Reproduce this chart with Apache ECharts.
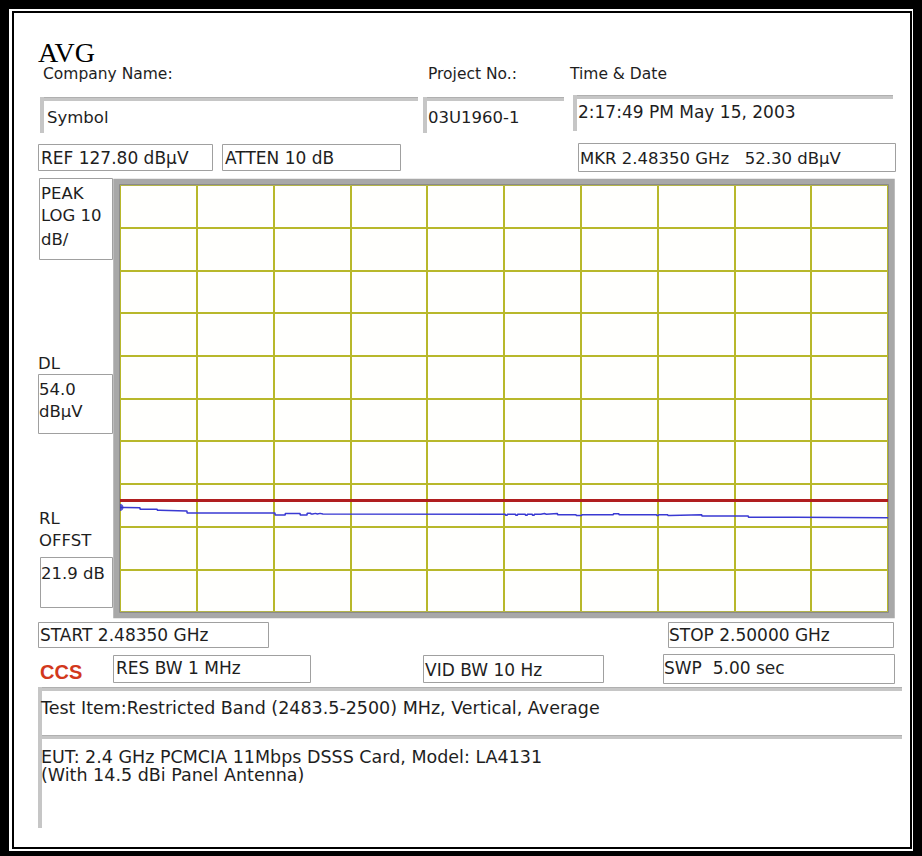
<!DOCTYPE html>
<html>
<head>
<meta charset="utf-8">
<title>AVG - Restricted Band 2483.5-2500 MHz</title>
<script src="https://cdn.jsdelivr.net/npm/echarts@6/dist/echarts.min.js"></script>
<style>
  html, body { margin: 0; padding: 0; background: #fff; }
  #main { width: 922px; height: 856px; }
</style>
</head>
<body>
<div id="main"></div>
<script>
// analyzer settings (from the screen annotations)
const refLevel = 127.8        // dBuV, top graticule line
const dbPerDiv = 10
const divisions = 10
const startFreq = 2483.5      // MHz
const stopFreq = 2500.0       // MHz
const displayLine = 54.0      // DL, dBuV
const markerFreq = [2483.5]
const markerLevel = [52.3]

// trace, each level is held until the next frequency
const traceFreq = [
  2483.50, 2483.62, 2483.93, 2484.30, 2484.35, 2484.94, 2486.83, 2487.05,
  2487.37, 2487.52, 2487.60, 2487.64, 2487.70, 2487.74, 2487.80, 2487.86,
  2491.78, 2491.82, 2492.00, 2492.04, 2492.21, 2492.25, 2492.36, 2492.40,
  2492.54, 2492.62, 2492.66, 2492.90, 2493.30, 2493.42, 2494.10, 2494.22,
  2495.03, 2495.07, 2495.27, 2495.31, 2496.00, 2497.00, 2498.00, 2500.00
]
const traceLevel = [
  52.3, 52.2, 51.85, 51.6, 51.45, 51.0, 50.5, 50.85,
  50.5, 50.95, 50.75, 50.9, 50.75, 50.9, 50.75, 50.7,
  50.45, 50.7, 50.45, 50.7, 50.45, 50.7, 50.45, 50.7,
  50.85, 50.7, 50.85, 50.6, 50.4, 50.6, 50.8, 50.6,
  50.4, 50.6, 50.4, 50.55, 50.3, 50.0, 49.85, 49.8
]

const font = '"DejaVu Sans", Verdana, sans-serif'
const gridColor = '#b8b82a'
const boxColor = '#a0a0a0'
const bevelColor = '#c6c6c6'

// plain framed boxes
function box(x, y, w, h) {
  return {
    type: 'rect',
    z: 100,
    shape: { x: x + 0.5, y: y + 0.5, width: w, height: h },
    style: { fill: 'none', stroke: boxColor, lineWidth: 1 }
  }
}

// sunken field: grey bar on top and left only
function field(x, y, w, h) {
  return [
    { type: 'rect', z: 100, shape: { x: x, y: y, width: w, height: 4 }, style: { fill: bevelColor } },
    { type: 'rect', z: 100, shape: { x: x, y: y, width: w, height: 1 }, style: { fill: '#b0b0b0' } },
    { type: 'rect', z: 100, shape: { x: x, y: y, width: 4, height: h }, style: { fill: bevelColor } }
  ]
}

function label(text, x, y, opts) {
  opts = opts || {}
  return {
    type: 'text',
    z: 110,
    x: x,
    y: y,
    style: {
      text: text,
      font: opts.font || (opts.size || 17) + 'px ' + font,
      fill: opts.color || '#1e1e1e',
      textAlign: 'left',
      textVerticalAlign: 'middle'
    }
  }
}

const elements = [
  // outer double border
  { type: 'rect', z: 100, shape: { x: 4.5, y: 4.5, width: 913, height: 851 }, style: { fill: 'none', stroke: '#000', lineWidth: 9 } },
  { type: 'rect', z: 100, shape: { x: 13, y: 12, width: 898, height: 836 }, style: { fill: 'none', stroke: '#000', lineWidth: 2 } },

  // plot frame
  { type: 'rect', z: 100, shape: { x: 116.5, y: 182, width: 775, height: 433 }, style: { fill: 'none', stroke: '#a8a8a8', lineWidth: 6.5 } },
  { type: 'rect', z: 100, shape: { x: 119.5, y: 184.5, width: 769, height: 428 }, style: { fill: 'none', stroke: '#8a8a8a', lineWidth: 1 } },

  label('AVG', 38, 52, { font: '28px "Liberation Serif", "Times New Roman", serif', color: '#000' }),
  label('Company Name:', 43, 74, { size: 15.5 }),
  label('Project No.:', 428, 74, { size: 15.5 }),
  label('Time & Date', 570, 74, { size: 15.5 }),

  ...field(40, 97, 378, 36),
  label('Symbol', 47, 117, { size: 16.5 }),
  ...field(423, 97, 141, 36),
  label('03U1960-1', 428, 117, { size: 16.5 }),
  ...field(573, 95, 320, 36),
  label('2:17:49 PM May 15, 2003', 578, 112),

  box(38, 144, 174, 26),
  label('REF 127.80 dB\u00b5V', 41, 158),
  box(222, 144, 178, 26),
  label('ATTEN 10 dB', 225, 158),
  box(578, 143, 317, 28),
  label('MKR 2.48350 GHz   52.30 dB\u00b5V', 580, 158, { size: 16.5 }),

  box(39, 178, 73, 81),
  label('PEAK', 41, 193, { size: 16.5 }),
  label('LOG 10', 41, 215, { size: 16.5 }),
  label('dB/', 41, 239, { size: 16.5 }),
  label('DL', 38, 363, { size: 16.5 }),
  box(38, 374, 74, 59),
  label('54.0', 39, 389, { size: 16.5 }),
  label('dB\u00b5V', 39, 411, { size: 16.5 }),
  label('RL', 39, 518, { size: 16.5 }),
  label('OFFST', 39, 540, { size: 16.5 }),
  box(40, 557, 72, 50),
  label('21.9 dB', 41, 573, { size: 16.5 }),

  box(38, 622, 230, 25),
  label('START 2.48350 GHz', 40, 635),
  box(668, 622, 225, 25),
  label('STOP 2.50000 GHz', 669, 635),

  label('CCS', 40, 672, { font: 'bold 20px "Liberation Sans", Arial, sans-serif', color: '#d2381c' }),
  box(113, 655, 197, 27),
  label('RES BW 1 MHz', 116, 668),
  box(423, 655, 180, 27),
  label('VID BW 10 Hz', 425, 670),
  box(663, 654, 231, 29),
  label('SWP  5.00 sec', 664, 668),

  ...field(38, 687, 864, 50),
  label('Test Item:Restricted Band (2483.5-2500) MHz, Vertical, Average', 41, 708, { size: 17.5 }),
  ...field(38, 735, 864, 93),
  label('EUT: 2.4 GHz PCMCIA 11Mbps DSSS Card, Model: LA4131', 41, 757, { size: 17.5 }),
  label('(With 14.5 dBi Panel Antenna)', 41, 775, { size: 17.5 })
]

const chart = echarts.init(document.getElementById('main'), null, { renderer: 'svg' })

const option = {
  animation: false,
  backgroundColor: '#fff',
  grid: { left: 120, top: 185, width: 768, height: 427, show: true, backgroundColor: '#fffffd', borderWidth: 0 },
  xAxis: [
    { type: 'value', min: startFreq, max: stopFreq, show: false },
    {
      // graticule only, counted in divisions
      type: 'value', min: 0, max: divisions, interval: 1,
      axisLine: { show: false }, axisTick: { show: false }, axisLabel: { show: false },
      splitLine: { show: true, lineStyle: { color: gridColor, width: 2 } }
    }
  ],
  yAxis: [
    { type: 'value', min: refLevel - dbPerDiv * divisions, max: refLevel, show: false },
    {
      type: 'value', min: 0, max: divisions, interval: 1,
      axisLine: { show: false }, axisTick: { show: false }, axisLabel: { show: false },
      splitLine: { show: true, lineStyle: { color: gridColor, width: 2 } }
    }
  ],
  series: [
    {
      name: 'Trace',
      type: 'line',
      xAxisIndex: 0,
      yAxisIndex: 0,
      step: 'end',
      symbol: 'none',
      silent: true,
      data: traceFreq.map((f, i) => [f, traceLevel[i]]),
      lineStyle: { color: '#3a3ad2', width: 1.5 },
      markLine: {
        silent: true,
        symbol: 'none',
        label: { show: false },
        lineStyle: { color: '#b01e1e', width: 3, type: 'solid' },
        data: [{ yAxis: displayLine }]
      },
      z: 5
    },
    {
      name: 'Marker',
      type: 'scatter',
      xAxisIndex: 0,
      yAxisIndex: 0,
      symbol: 'circle',
      symbolSize: 7,
      silent: true,
      itemStyle: { color: '#3030c8' },
      data: markerFreq.map((f, i) => [f, markerLevel[i]]),
      z: 6
    }
  ],
  graphic: { elements: elements }
}

chart.setOption(option)
</script>
</body>
</html>
